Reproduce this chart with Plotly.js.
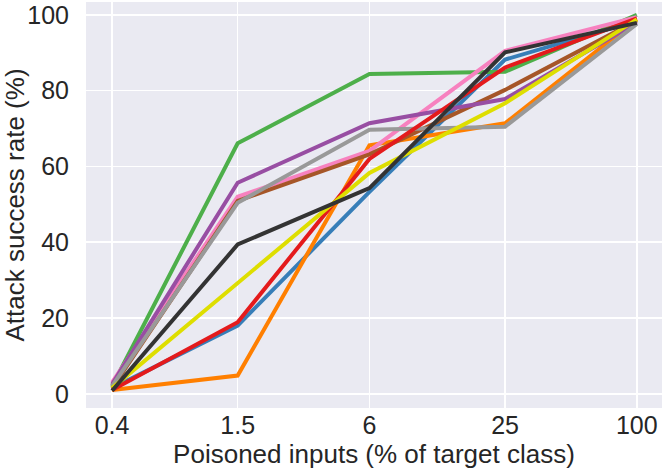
<!DOCTYPE html>
<html>
<head>
<meta charset="utf-8">
<script src="https://cdn.plot.ly/plotly-3.0.1.min.js"></script>
<style>
  html, body { margin: 0; padding: 0; background: #fff; }
  #plot { width: 664px; height: 475px; }
</style>
</head>
<body>
<div id="plot"></div>
<script>
// poisoning ratio (% of target class)
let poisoned = [0.4, 1.5, 6, 25, 100];
let tickLabels = ['0.4', '1.5', '6', '25', '100'];

// attack success rate (%) per run
let runBlue   = [1.5, 18.0, 53.3, 88.2, 98.5];
let runOrange = [1.0, 4.8, 65.6, 71.4, 98.8];
let runGreen  = [2.0, 66.1, 84.4, 85.0, 100];
let runPink   = [3.0, 52.0, 64.1, 90.5, 99.4];
let runBrown  = [1.5, 50.9, 63.2, 80.2, 98.5];
let runPurple = [2.5, 55.7, 71.4, 77.8, 98.0];
let runGray   = [2.0, 50.4, 69.7, 70.5, 97.6];
let runRed    = [1.0, 18.9, 62.0, 86.1, 99.1];
let runYellow = [1.5, 29.3, 58.3, 76.7, 98.8];
let runBlack  = [0.8, 39.4, 54.3, 90.1, 97.9];

let runs = [
  [runBlue, '#377eb8'],
  [runOrange, '#ff7f00'],
  [runGreen, '#4daf4a'],
  [runPink, '#f781bf'],
  [runBrown, '#a65628'],
  [runPurple, '#984ea3'],
  [runGray, '#999999'],
  [runRed, '#e41a1c'],
  [runYellow, '#dede00'],
  [runBlack, '#333333']
];

let data = runs.map(r => ({
  x: poisoned,
  y: r[0],
  type: 'scatter',
  mode: 'lines',
  line: {color: r[1], width: 4},
  hoverinfo: 'x+y'
}));

let tickFont = {family: 'Liberation Sans, Arial, sans-serif', size: 25, color: '#262626'};
let titleFont = {family: 'Liberation Sans, Arial, sans-serif', size: 26, color: '#262626'};

let layout = {
  width: 664,
  height: 475,
  margin: {l: 86, r: 2, t: 2, b: 67},
  paper_bgcolor: '#ffffff',
  plot_bgcolor: '#eaeaf2',
  showlegend: false,
  font: tickFont,
  xaxis: {
    type: 'log',
    range: [-0.517, 2.115],
    tickvals: poisoned,
    ticktext: tickLabels,
    showgrid: true,
    gridcolor: '#ffffff',
    gridwidth: 1.5,
    zeroline: false,
    showline: false,
    ticks: '',
    tickfont: tickFont,
    title: {text: 'Poisoned inputs (% of target class)', font: titleFont, standoff: 0}
  },
  yaxis: {
    range: [-3.75, 103.4],
    tickvals: [0, 20, 40, 60, 80, 100],
    showgrid: true,
    gridcolor: '#ffffff',
    gridwidth: 1.5,
    zeroline: false,
    showline: false,
    ticks: 'outside',
    ticklen: 11,
    tickcolor: 'rgba(0,0,0,0)',
    tickfont: tickFont,
    title: {text: 'Attack success rate (%)', font: titleFont, standoff: 8}
  }
};

Plotly.newPlot('plot', data, layout, {displayModeBar: false, staticPlot: true});
</script>
</body>
</html>
